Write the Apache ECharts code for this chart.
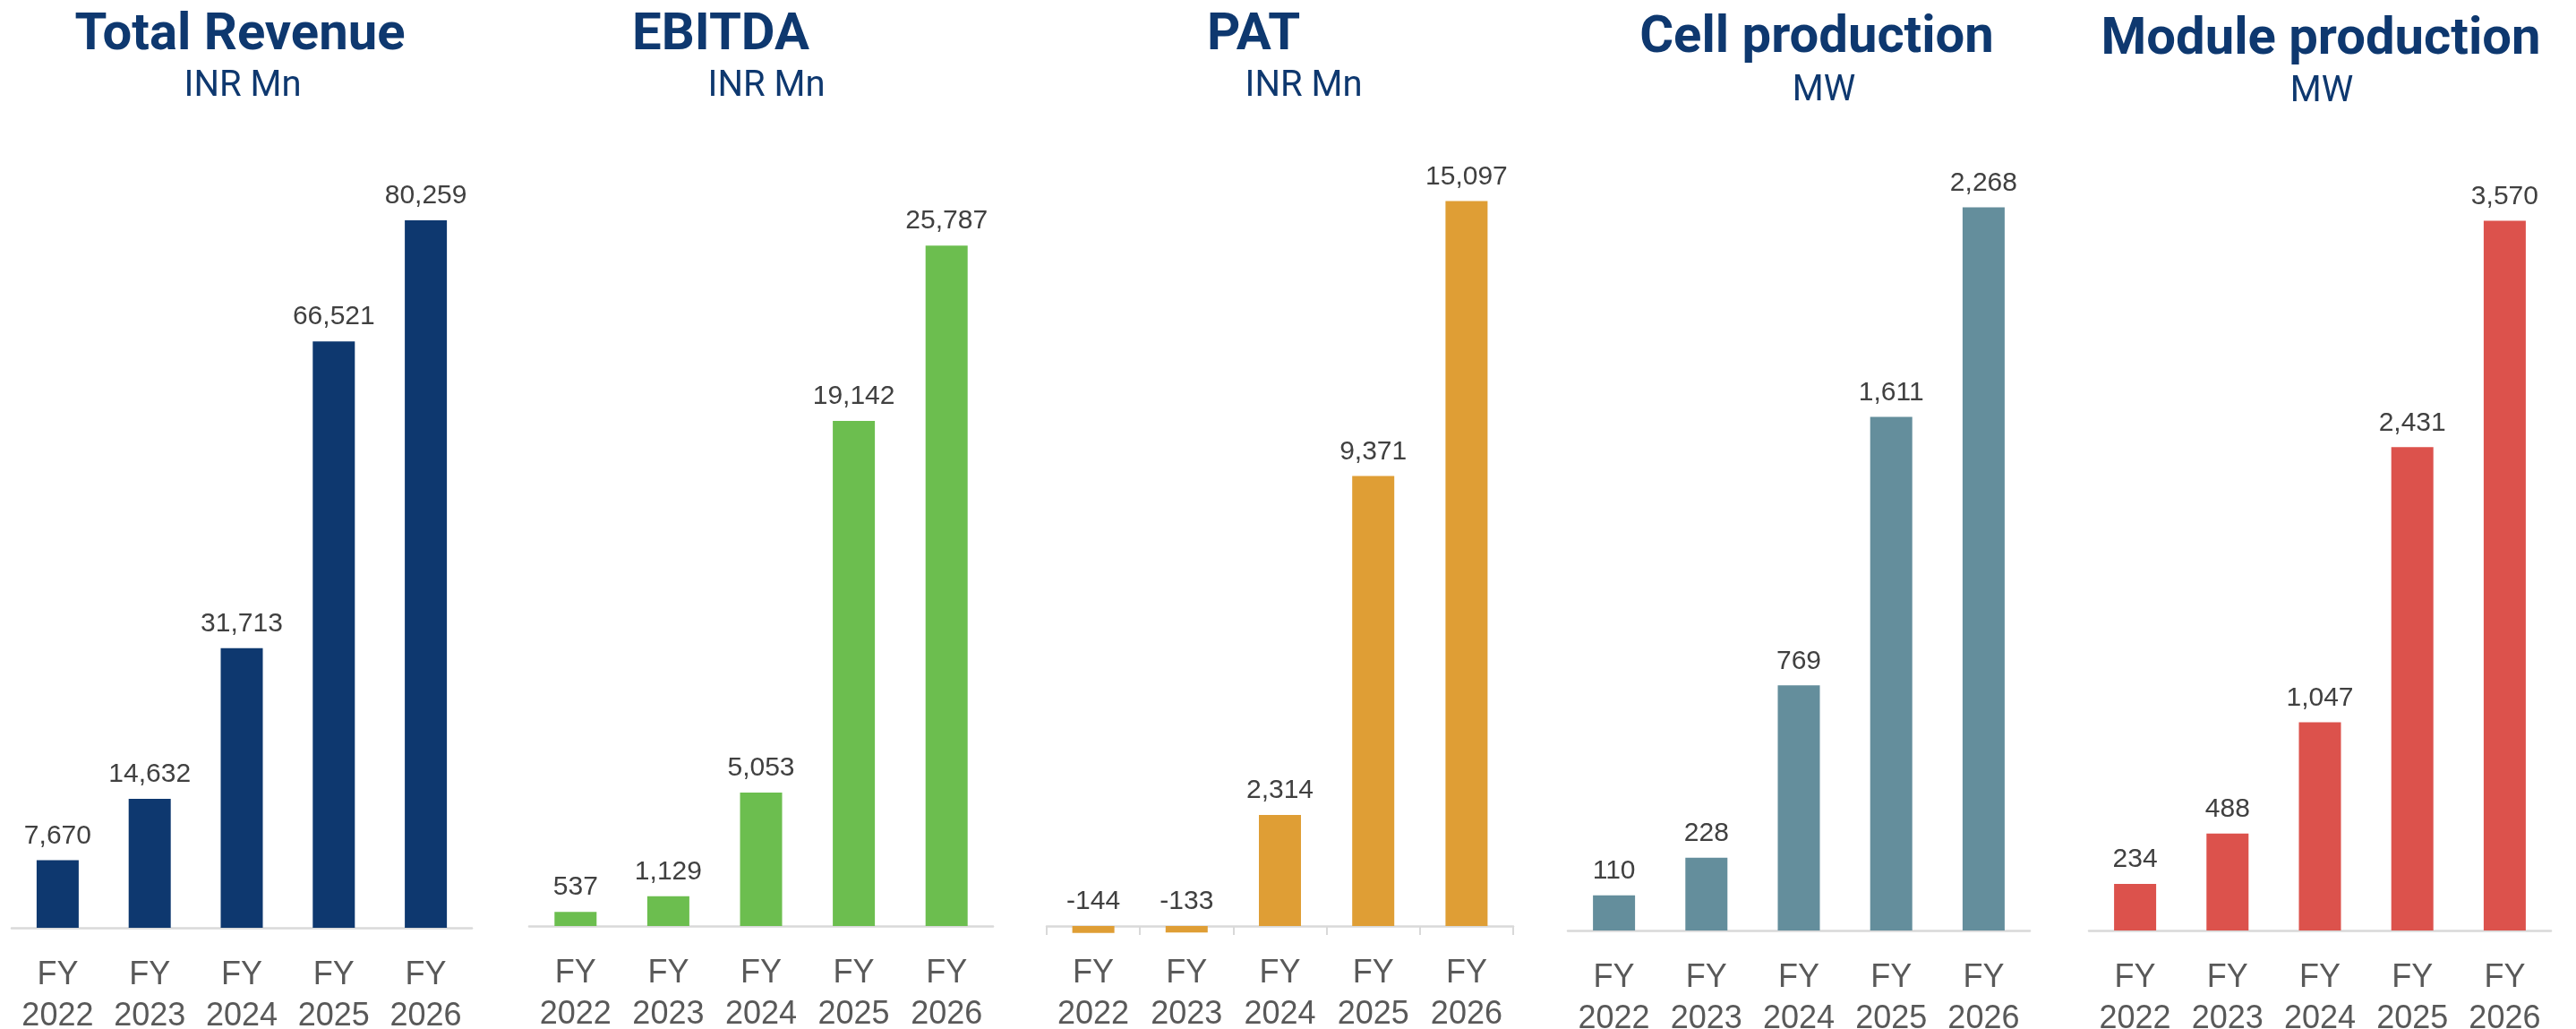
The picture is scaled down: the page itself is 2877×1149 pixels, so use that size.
<!DOCTYPE html>
<html>
<head>
<meta charset="utf-8">
<script src="https://cdn.jsdelivr.net/npm/echarts@6/dist/echarts.min.js"></script>
<style>
html,body{margin:0;padding:0;background:#fff;}
#chart{width:2877px;height:1149px;}
</style>
</head>
<body>
<div id="chart"></div>
<script>
// ---- data ----
const categories = ['FY 2022', 'FY 2023', 'FY 2024', 'FY 2025', 'FY 2026'];
const panelTitles = ['Total Revenue', 'EBITDA', 'PAT', 'Cell production', 'Module production'];
const panelUnits = ['INR Mn', 'INR Mn', 'INR Mn', 'MW', 'MW'];
const revenue = [7670, 14632, 31713, 66521, 80259];
const ebitda = [537, 1129, 5053, 19142, 25787];
const pat = [-144, -133, 2314, 9371, 15097];
const cellProduction = [110, 228, 769, 1611, 2268];
const moduleProduction = [234, 488, 1047, 2431, 3570];
const axisMax = [90000, 30000, 16000, 2500, 4000];

const seriesData = [revenue, ebitda, pat, cellProduction, moduleProduction];
const colors = ['#0E386F', '#6CBE4F', '#DF9E35', '#648E9C', '#DC524C'];

// ---- layout ----
const grids = [
  {left: 13,   width: 514, top: 150, bottom: 113},
  {left: 591,  width: 518, top: 150, bottom: 115},
  {left: 1169, width: 521, top: 176, bottom: 115},
  {left: 1751, width: 516, top: 149, bottom: 110},
  {left: 2333, width: 516, top: 151, bottom: 110}
].map(g => Object.assign({outerBoundsMode: 'none', containLabel: false}, g));
const titleCenters = [268, 805, 1400, 2029, 2592];
const unitCenters = [271, 856, 1456, 2037, 2593];
const titleTops = [11, 11, 11, 14, 16];
const unitTops = [77, 77, 77, 82, 83];

const NAVY = '#0E386F';

const option = {
  backgroundColor: '#ffffff',
  animation: false,
  title: [],
  grid: grids,
  xAxis: grids.map((g, i) => ({
    type: 'category',
    gridIndex: i,
    data: categories,
    axisLine: {show: true, onZero: false, lineStyle: {color: '#D9D9D9', width: 2.5}},
    axisTick: {show: i === 2, alignWithLabel: false, length: 10, lineStyle: {color: '#D9D9D9', width: 2}},
    axisLabel: {
      interval: 0,
      margin: 30,
      color: '#595959',
      fontFamily: 'Liberation Sans',
      fontSize: 36,
      lineHeight: 46,
      formatter: v => v.replace(' ', '\n')
    },
    splitLine: {show: false}
  })),
  yAxis: grids.map((g, i) => ({
    type: 'value',
    gridIndex: i,
    show: false,
    min: 0,
    max: axisMax[i],
    splitLine: {show: false}
  })),
  series: seriesData.map((d, i) => ({
    type: 'bar',
    xAxisIndex: i,
    yAxisIndex: i,
    data: d,
    clip: false,
    barWidth: 47,
    itemStyle: {color: colors[i]},
    label: {
      show: true,
      position: 'top',
      distance: 12,
      color: '#404040',
      fontFamily: 'Liberation Sans',
      fontSize: 30,
      formatter: p => p.value.toLocaleString('en-US')
    }
  }))
};

panelTitles.forEach((t, i) => {
  option.title.push({
    text: t,
    left: titleCenters[i],
    top: titleTops[i],
    textAlign: 'center',
    padding: 0,
    textStyle: {color: NAVY, fontFamily: 'Roboto', fontWeight: 'bold', fontSize: 58}
  });
  option.title.push({
    text: panelUnits[i],
    left: unitCenters[i],
    top: unitTops[i],
    textAlign: 'center',
    padding: 0,
    textStyle: {color: NAVY, fontFamily: 'Roboto', fontWeight: 'normal', fontSize: 40}
  });
});

const chart = echarts.init(document.getElementById('chart'));
chart.setOption(option);
</script>
</body>
</html>
